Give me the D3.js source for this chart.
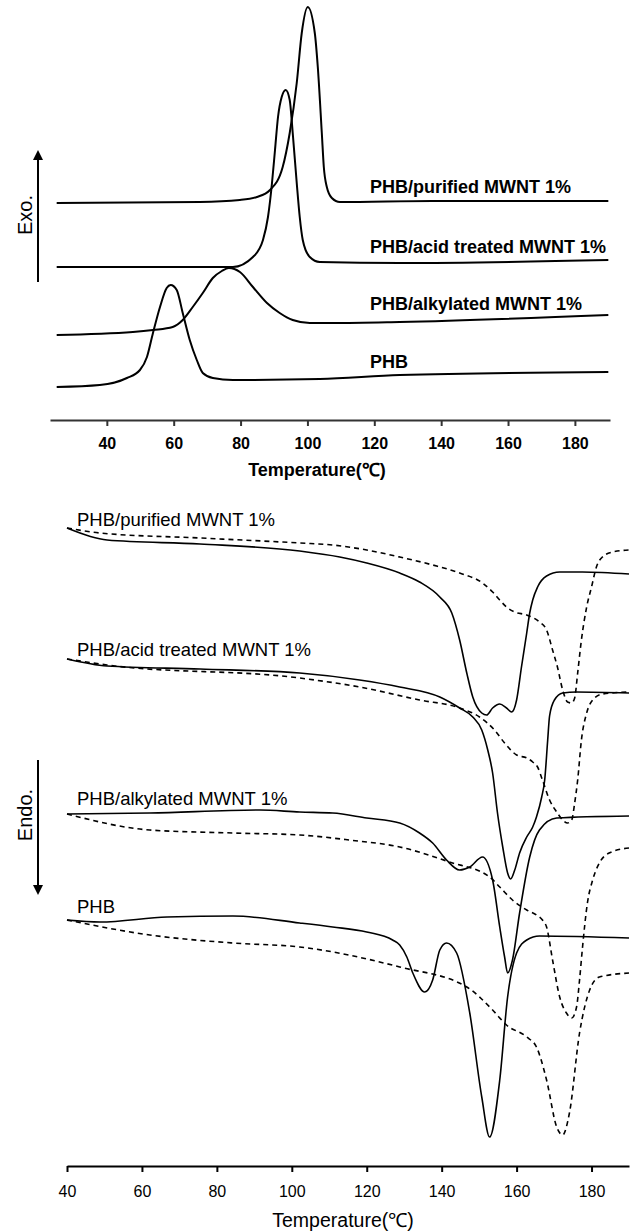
<!DOCTYPE html>
<html>
<head>
<meta charset="utf-8">
<script src="https://cdn.jsdelivr.net/npm/d3@7.9.0/dist/d3.min.js"></script>
<style>
  body { margin: 0; background: #fff; }
  svg { display: block; font-family: "Liberation Sans", Arial, sans-serif; }
  .curve { fill: none; stroke: #000; }
</style>
</head>
<body>
<svg id="chart" width="635" height="1231"></svg>
<script>
// ---- crystallization (cooling) curves, top panel: [temperature °C, heat flow a.u.]
const coolPurified = [[25,21.7],[67.8,21.8],[79.8,22.0],[84.9,22.3],[88.8,23.0],[92.6,25.3],[94.7,28.7],[96.8,33.7],[98.3,38.7],[100.1,41.3],[102.2,38.7],[103.1,35.3],[104.3,28.7],[104.9,25.3],[105.8,23.3],[107.3,22.2],[109.7,21.8],[137.5,21.9],[190,21.9]];
const coolAcid = [[25,15.3],[77.7,15.3],[83.7,16.3],[86.7,18.0],[88.2,20.3],[89.4,23.7],[90.3,27.0],[91.2,30.3],[92.3,32.3],[93.5,33.0],[94.7,32.0],[95.6,28.7],[96.8,23.7],[97.7,20.3],[98.6,18.0],[100.7,16.3],[103.7,15.8],[127.6,15.7],[190,16.0]];
const coolAlkyl = [[25,8.5],[47.8,8.8],[53.8,9.0],[59.7,9.3],[62.7,10.0],[65.7,11.3],[68.7,12.7],[71.7,14.2],[74.4,14.9],[76.5,15.2],[79.8,14.8],[83.7,13.3],[87.9,11.7],[91.7,10.7],[95.6,10.0],[100.7,9.7],[107.6,9.7],[127.6,9.8],[190,10.5]];
const coolPHB = [[25,3.3],[37.9,3.5],[46.0,4.2],[49.9,5.0],[52.0,6.3],[53.8,8.7],[55.9,11.3],[57.9,13.2],[59.1,13.5],[60.9,13.0],[62.7,10.7],[64.8,8.0],[66.9,6.0],[68.7,4.7],[71.7,4.2],[77.7,4.0],[103.7,4.1],[127.6,4.5],[190,4.8]];
const coolLabels = ["PHB/purified MWNT 1%", "PHB/acid treated MWNT 1%", "PHB/alkylated MWNT 1%", "PHB"];
const coolLabelY = [22.7, 16.7, 11.0, 5.2];

// ---- melting (heating) curves, bottom panel: solid = 1st scan, dashed = 2nd scan
const meltPurifiedSolid = [[40,63.8],[50.7,62.6],[75.5,62.2],[102.1,61.5],[112.8,60.9],[120.0,60.3],[128.8,59.3],[134.1,58.4],[139.5,56.9],[142.7,55.3],[144.8,52.6],[146.7,49.3],[148.3,46.9],[150.7,45.3],[152.0,45.1],[153.6,45.8],[155.5,46.2],[157.3,45.8],[158.7,45.4],[160.0,46.6],[161.3,49.9],[162.7,53.3],[163.5,55.3],[164.3,56.6],[165.6,57.9],[168.0,59.0],[171.5,59.4],[177.6,59.4],[190,59.2]];
const meltPurifiedDash = [[40,63.8],[48.8,63.3],[75.5,62.8],[102.1,62.3],[110.9,62.1],[120.0,61.6],[128.8,60.9],[137.6,60.1],[144.8,59.3],[150.9,58.3],[153.6,57.4],[155.5,56.6],[157.3,55.9],[159.5,55.4],[162.7,55.1],[166.1,54.4],[168.0,53.6],[169.6,51.6],[170.9,49.9],[172.3,47.6],[173.6,46.4],[174.7,46.3],[175.5,46.8],[176.3,49.3],[177.3,52.6],[178.7,55.9],[180.0,57.9],[181.3,59.9],[182.9,60.9],[185.6,61.4],[190,61.6]];
const meltAcidSolid = [[40,50.7],[50.7,50.0],[75.5,49.7],[102.1,49.3],[118.1,48.6],[128.8,47.9],[139.5,46.9],[144.8,45.8],[148.3,44.9],[150.7,43.6],[152.3,41.6],[153.6,39.3],[154.9,35.3],[156.3,31.9],[157.6,29.3],[158.4,28.7],[159.5,29.6],[160.8,31.3],[162.7,32.9],[164.3,33.9],[165.3,34.9],[166.7,36.9],[167.5,38.6],[168.3,42.6],[168.8,45.0],[170.1,46.6],[172.3,47.3],[176.0,47.4],[190,47.3]];
const meltAcidDash = [[40,50.7],[50.7,50.1],[102.1,48.8],[118.1,47.9],[134.1,46.6],[144.8,45.8],[150.1,44.9],[154.1,43.6],[156.8,42.3],[160.0,41.1],[162.7,40.8],[164.3,40.4],[165.6,39.9],[166.9,38.6],[168.8,36.6],[170.7,35.4],[172.3,34.6],[173.6,34.3],[174.7,34.6],[175.5,36.3],[176.3,38.6],[177.3,42.6],[178.7,45.3],[180.3,46.6],[182.9,47.2],[190,47.4]];
const meltAlkylSolid = [[40,35.2],[62.1,35.3],[91.5,35.6],[102.1,35.4],[110.9,35.3],[120.0,34.8],[128.8,34.3],[134.1,33.3],[137.6,32.3],[141.3,30.6],[144.8,29.6],[147.5,29.9],[150.9,30.9],[153.6,28.6],[155.5,23.9],[156.8,20.9],[157.6,19.3],[158.9,20.6],[160.8,25.3],[163.5,30.9],[166.1,33.6],[170.7,34.8],[190,35.0]];
const meltAlkylDash = [[40,35.2],[62.1,33.6],[84.3,33.3],[102.1,33.1],[115.3,32.6],[128.8,31.9],[142.1,30.4],[152.8,28.9],[155.5,27.9],[158.9,26.6],[162.7,25.6],[165.3,25.1],[166.9,24.6],[168.0,23.9],[169.6,20.6],[171.5,16.9],[173.3,15.3],[174.7,14.8],[176.0,15.9],[176.8,18.6],[177.6,21.9],[178.9,26.3],[180.3,28.6],[182.1,30.3],[184.7,31.3],[190,31.8]];
const meltPHBSolid = [[40,24.6],[48.8,24.4],[66.7,24.9],[84.3,25.0],[102.1,24.3],[110.9,23.9],[120.0,23.4],[126.9,22.6],[128.8,22.1],[130.7,20.9],[132.3,19.3],[135.5,17.4],[137.6,18.6],[139.5,21.6],[141.3,22.3],[144.0,21.3],[147.5,15.3],[150.7,6.9],[152.8,2.9],[155.5,8.6],[157.6,16.9],[160.0,21.3],[162.7,22.6],[166.1,23.0],[190,22.8]];
const meltPHBDash = [[40,24.6],[62.1,23.1],[84.3,22.3],[102.1,21.9],[128.8,19.9],[146.7,17.9],[153.6,15.6],[157.3,14.1],[162.7,12.9],[165.3,11.9],[168.0,8.6],[170.7,3.9],[172.3,3.1],[174.1,5.3],[176.8,13.3],[179.5,17.6],[182.1,18.9],[190,19.3]];
const meltLabels = ["PHB/purified MWNT 1%", "PHB/acid treated MWNT 1%", "PHB/alkylated MWNT 1%", "PHB"];
const meltLabelY = [64.0, 51.0, 36.1, 25.3];

const tickValues = [40, 60, 80, 100, 120, 140, 160, 180];

const svg = d3.select('#chart');

// ===== top panel =====
const xTop = d3.scaleLinear().domain([23, 190.5]).range([50, 610]);
const yTop = d3.scaleLinear().domain([0, 42]).range([420, 0]);

const lineTop = d3.line()
  .x(d => xTop(d[0]))
  .y(d => yTop(d[1]))
  .curve(d3.curveMonotoneX);

const gTop = svg.append('g');

[coolPurified, coolAcid, coolAlkyl, coolPHB].forEach(s => {
  gTop.append('path')
    .attr('class', 'curve')
    .attr('d', lineTop(s))
    .attr('stroke-width', 2);
});

coolLabels.forEach((t, i) => {
  gTop.append('text')
    .attr('x', 370)
    .attr('y', yTop(coolLabelY[i]))
    .attr('font-size', 18)
    .attr('font-weight', 'bold')
    .text(t);
});

const axTop = gTop.append('g')
  .attr('transform', 'translate(0,420)')
  .call(d3.axisBottom(xTop).tickValues(tickValues).tickSize(6).tickSizeOuter(0).tickPadding(12));
axTop.select('.domain').attr('stroke', '#333').attr('stroke-width', 2);
axTop.selectAll('.tick line').attr('stroke', '#333').attr('stroke-width', 2);
axTop.selectAll('.tick text')
  .attr('font-size', 16)
  .attr('font-weight', 'bold')
  .attr('font-family', '"Liberation Sans", Arial, sans-serif')
  .attr('fill', '#000');

gTop.append('text')
  .attr('x', 317)
  .attr('y', 476)
  .attr('text-anchor', 'middle')
  .attr('font-size', 18)
  .attr('font-weight', 'bold')
  .text('Temperature(℃)');

// Exo arrow
svg.append('defs').append('marker')
  .attr('id', 'head')
  .attr('viewBox', '0 0 10 10')
  .attr('refX', 5).attr('refY', 5)
  .attr('markerWidth', 10).attr('markerHeight', 10)
  .attr('markerUnits', 'userSpaceOnUse')
  .attr('orient', 'auto')
  .append('path').attr('d', 'M0,0 L10,5 L0,10 Z').attr('fill', '#000');

svg.append('line')
  .attr('x1', 38).attr('y1', 282).attr('x2', 38).attr('y2', 155)
  .attr('stroke', '#000').attr('stroke-width', 2)
  .attr('marker-end', 'url(#head)');
svg.append('text')
  .attr('transform', 'translate(25,215) rotate(-90)')
  .attr('text-anchor', 'middle')
  .attr('dy', '0.35em')
  .attr('font-size', 20)
  .text('Exo.');

// ===== bottom panel =====
const xBot = d3.scaleLinear().domain([40, 190]).range([67, 629]);
const yBot = d3.scaleLinear().domain([0, 66]).range([1166, 506]);

const lineBot = d3.line()
  .x(d => xBot(d[0]))
  .y(d => yBot(d[1]))
  .curve(d3.curveMonotoneX);

const gBot = svg.append('g');

[meltPurifiedSolid, meltAcidSolid, meltAlkylSolid, meltPHBSolid].forEach(s => {
  gBot.append('path')
    .attr('class', 'curve')
    .attr('d', lineBot(s))
    .attr('stroke-width', 1.6);
});
[meltPurifiedDash, meltAcidDash, meltAlkylDash, meltPHBDash].forEach(s => {
  gBot.append('path')
    .attr('class', 'curve')
    .attr('d', lineBot(s))
    .attr('stroke-width', 1.6)
    .attr('stroke-dasharray', '5,4');
});

meltLabels.forEach((t, i) => {
  gBot.append('text')
    .attr('x', 77)
    .attr('y', yBot(meltLabelY[i]))
    .attr('font-size', 18.5)
    .text(t);
});

const axBot = gBot.append('g')
  .attr('transform', 'translate(0,1166)')
  .call(d3.axisBottom(xBot).tickValues(tickValues).tickSize(6).tickSizeOuter(0).tickPadding(14));
axBot.select('.domain').attr('stroke', '#000').attr('stroke-width', 2);
axBot.selectAll('.tick line').attr('stroke', '#000').attr('stroke-width', 2);
axBot.selectAll('.tick text')
  .attr('font-size', 16)
  .attr('font-family', '"Liberation Sans", Arial, sans-serif')
  .attr('fill', '#000');

gBot.append('text')
  .attr('x', 343)
  .attr('y', 1227)
  .attr('text-anchor', 'middle')
  .attr('font-size', 19.5)
  .text('Temperature(℃)');

// Endo arrow
svg.append('line')
  .attr('x1', 38).attr('y1', 760).attr('x2', 38).attr('y2', 890)
  .attr('stroke', '#000').attr('stroke-width', 2)
  .attr('marker-end', 'url(#head)');
svg.append('text')
  .attr('transform', 'translate(25,815) rotate(-90)')
  .attr('text-anchor', 'middle')
  .attr('dy', '0.35em')
  .attr('font-size', 20)
  .text('Endo.');
</script>
</body>
</html>
